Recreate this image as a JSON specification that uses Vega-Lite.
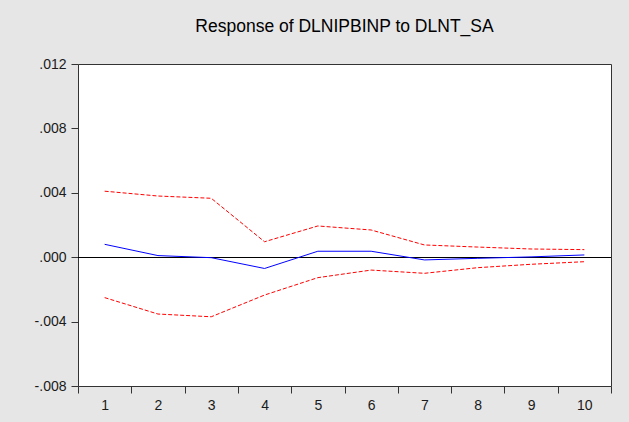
{
  "$schema": "https://vega.github.io/schema/vega-lite/v6.json",
  "width": 533,
  "height": 322,
  "autosize": {"type": "none"},
  "padding": {"left": 78, "top": 64, "right": 18, "bottom": 36},
  "background": "#e6e6e6",
  "title": {
    "text": "Response of DLNIPBINP to DLNT_SA",
    "font": "Liberation Sans",
    "fontSize": 17.5,
    "fontWeight": "normal",
    "color": "#000000",
    "anchor": "middle",
    "offset": 22
  },
  "config": {
    "view": {"fill": "#ffffff", "stroke": "#333333", "strokeWidth": 1},
    "axis": {
      "labelFont": "Liberation Sans",
      "labelFontSize": 14,
      "labelColor": "#1a1a1a",
      "tickColor": "#333333",
      "tickSize": 7,
      "domain": false,
      "grid": false,
      "title": null
    }
  },
  "data": {
    "values": [
      {"period": 1, "resp": 0.00080, "upper": 0.00410, "lower": -0.00251},
      {"period": 2, "resp": 0.00010, "upper": 0.00380, "lower": -0.00353},
      {"period": 3, "resp": -0.00003, "upper": 0.00366, "lower": -0.00370},
      {"period": 4, "resp": -0.00070, "upper": 0.00096, "lower": -0.00235},
      {"period": 5, "resp": 0.00037, "upper": 0.00194, "lower": -0.00127},
      {"period": 6, "resp": 0.00037, "upper": 0.00169, "lower": -0.00080},
      {"period": 7, "resp": -0.00017, "upper": 0.00076, "lower": -0.00100},
      {"period": 8, "resp": -0.00007, "upper": 0.00063, "lower": -0.00065},
      {"period": 9, "resp": 0.00002, "upper": 0.00051, "lower": -0.00044},
      {"period": 10, "resp": 0.00014, "upper": 0.00047, "lower": -0.00028}
    ]
  },
  "encoding": {
    "x": {
      "field": "period",
      "type": "ordinal",
      "bandPosition": 0.5,
      "scale": {"type": "band", "paddingInner": 0, "paddingOuter": 0},
      "axis": {"labelAngle": 0, "tickBand": "extent", "labelPadding": 5}
    }
  },
  "layer": [
    {
      "mark": {"type": "rule", "color": "#000000", "strokeWidth": 1, "yOffset": 0.3},
      "encoding": {"x": null, "y": {"datum": 0, "type": "quantitative"}}
    },
    {
      "mark": {"type": "line", "color": "#ff0000", "strokeWidth": 1, "strokeDash": [4, 2]},
      "encoding": {
        "y": {
          "field": "upper",
          "type": "quantitative",
          "scale": {"domain": [-0.008, 0.012], "nice": false},
          "axis": {
            "values": [-0.008, -0.004, 0, 0.004, 0.008, 0.012],
            "labelExpr": "replace(replace(format(abs(datum.value), '.3f'), '0.', '.'), '', datum.value < 0 ? '-' : '')",
            "labelPadding": 5
          }
        }
      }
    },
    {
      "mark": {"type": "line", "color": "#ff0000", "strokeWidth": 1, "strokeDash": [4, 2]},
      "encoding": {"y": {"field": "lower", "type": "quantitative"}}
    },
    {
      "mark": {"type": "line", "color": "#0000ff", "strokeWidth": 1},
      "encoding": {"y": {"field": "resp", "type": "quantitative"}}
    }
  ]
}
